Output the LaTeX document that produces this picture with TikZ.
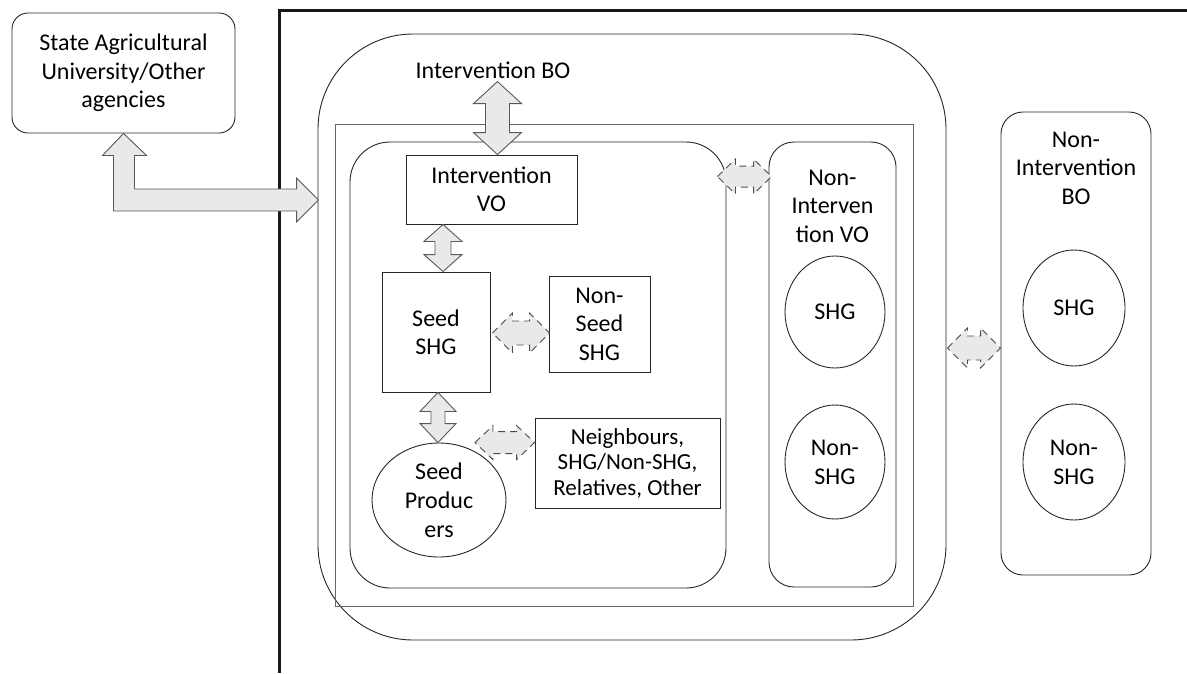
\documentclass[tikz,border=0pt]{standalone}
\usepackage{fontspec}
\setmainfont{Carlito}
\usetikzlibrary{calc,shapes.geometric}
\tikzset{
  box/.style={draw=black!85, line width=0.9pt, align=center, inner sep=0pt, font=\fontsize{24}{28.5}\selectfont},
  rbox/.style={box, rounded corners=#1},
  oval/.style={ellipse, draw=black!85, line width=0.9pt, align=center, inner sep=0pt, font=\fontsize{24}{29}\selectfont},
  txt/.style={align=center, inner sep=0pt, font=\fontsize{24}{28.5}\selectfont},
  fat/.style={fill=gray!17, draw=black!65, line width=0.9pt, line join=miter},
  dfat/.style={fill=gray!17, draw=black!70, line width=0.9pt, dash pattern=on 7pt off 5pt},
  frame/.style={draw=black!90, line width=3pt},
}
% #1 style, #2 start tip, #3 end tip, #4 half shaft, #5 half head, #6 head length
\newcommand\dblarr[6]{%
  \draw[#1] (#2)
    -- ($(#2)!#6!(#3)!#5!90:(#3)$)
    -- ($(#2)!#6!(#3)!#4!90:(#3)$)
    -- ($(#3)!#6!(#2)!#4!-90:(#2)$)
    -- ($(#3)!#6!(#2)!#5!-90:(#2)$)
    -- (#3)
    -- ($(#3)!#6!(#2)!#5!90:(#2)$)
    -- ($(#3)!#6!(#2)!#4!90:(#2)$)
    -- ($(#2)!#6!(#3)!#4!-90:(#3)$)
    -- ($(#2)!#6!(#3)!#5!-90:(#3)$)
    -- cycle;}
\begin{document}
\begin{tikzpicture}[x=1pt,y=-1pt]
\useasboundingbox (0,0) rectangle (1187,673);

% frame
\coordinate (fb) at (279,673);
\coordinate (fc) at (279,10);
\coordinate (fr) at (1187,10);
\draw[frame] (fb) -- (fc) -- (fr);

% boxes
\node[rbox=16, minimum width=223pt, minimum height=120pt] (sau) at (123.5,73)
  {State Agricultural\\University/Other\\agencies};
\node[rbox=95, minimum width=628pt, minimum height=606pt] (bo) at (632,337) {};
\node[draw=black!60, line width=0.9pt, minimum width=578pt, minimum height=482pt, inner sep=0pt] (inner) at (624,365) {};
\node[txt] (bolab) at (493,70) {Intervention BO};
\node[rbox=40, minimum width=376pt, minimum height=446pt] (cont) at (538,365) {};
\node[box, minimum width=171pt, minimum height=69pt] (ivo) at (491.5,189.5) {Intervention\\VO};
\node[box, minimum width=108pt, minimum height=120pt] (seedshg) at (436,332) {Seed\\SHG};
\node[box, minimum width=101pt, minimum height=96pt] (nonseed) at (599.5,324) {Non-\\Seed\\SHG};
\node[oval, minimum width=134pt, minimum height=114pt] (prod) at (439,500) {Seed\\Produc\\ers};
\node[box, minimum width=185pt, minimum height=90pt, font=\fontsize{23}{25.5}\selectfont] (neigh) at (627.5,463)
  {Neighbours,\\SHG/Non-SHG,\\Relatives, Other};

\node[rbox=25, minimum width=127pt, minimum height=445pt] (nivo) at (832.5,364.5) {};
\node[txt] (nivolab) at (832.5,206) {Non-\\Interven\\tion VO};
\node[oval, minimum width=100pt, minimum height=112pt] (nivoshg) at (835,312) {SHG};
\node[oval, minimum width=100pt, minimum height=114pt] (nivonon) at (835,462) {Non-\\SHG};

\node[rbox=22, minimum width=150pt, minimum height=463pt] (nibo) at (1076,343.5) {};
\node[txt] (nibolab) at (1076,168) {Non-\\Intervention\\BO};
\node[oval, minimum width=102pt, minimum height=116pt] (niboshg) at (1074,308) {SHG};
\node[oval, minimum width=102pt, minimum height=116pt] (nibonon) at (1074,462) {Non-\\SHG};

% L-shaped arrow from SAU to the frame
\coordinate (L1) at (sau.south);
\coordinate (L2) at ($(bo.west)+(1,-137)$);
\coordinate (LC) at (L1 |- L2);
\draw[fat] (L1) -- ($(L1)+(23,22)$) -- ($(L1)+(11,22)$) -- ($(LC)+(11,-11)$)
  -- ($(L2)+(-22,-11)$) -- ($(L2)+(-22,-22)$) -- (L2) -- ($(L2)+(-22,22)$)
  -- ($(L2)+(-22,11)$) -- ($(LC)+(-10,11)$) -- ($(L1)+(-10,22)$) -- ($(L1)+(-21,22)$) -- cycle;

% solid double arrows
\coordinate (a1e) at ($(ivo.north)+(6,0)$);
\coordinate (a1s) at ($(a1e)+(0,-73)$);
\dblarr{fat}{a1s}{a1e}{12pt}{24pt}{22pt}
\coordinate (a2e) at ($(seedshg.north)+(7,0)$);
\coordinate (a2s) at (a2e |- ivo.south);
\dblarr{fat}{a2s}{a2e}{8pt}{19pt}{17pt}
\coordinate (a3s) at ($(seedshg.south)+(2,0)$);
\coordinate (a3e) at (a3s |- prod.north);
\dblarr{fat}{a3s}{a3e}{7pt}{18pt}{19pt}

% dashed double arrows
\coordinate (d1s) at ($(seedshg.east)+(2,1)$);
\coordinate (d1e) at ($(d1s -| nonseed.west)+(1,0)$);
\dblarr{dfat}{d1s}{d1e}{12pt}{20pt}{20pt}
\coordinate (d2s) at ($(prod.north)+(36,0)$);
\coordinate (d2e) at (d2s -| neigh.west);
\dblarr{dfat}{d2s}{d2e}{11pt}{17pt}{18pt}
\coordinate (d3s) at ($(cont.north east)+(-9,35)$);
\coordinate (d3e) at ($(d3s -| nivo.west)+(3,0)$);
\dblarr{dfat}{d3s}{d3e}{10.5pt}{17.5pt}{18pt}
\coordinate (d4s) at ($(bo.east)+(1,11)$);
\coordinate (d4e) at (d4s -| nibo.west);
\dblarr{dfat}{d4s}{d4e}{12pt}{20pt}{20pt}
\end{tikzpicture}
\end{document}
